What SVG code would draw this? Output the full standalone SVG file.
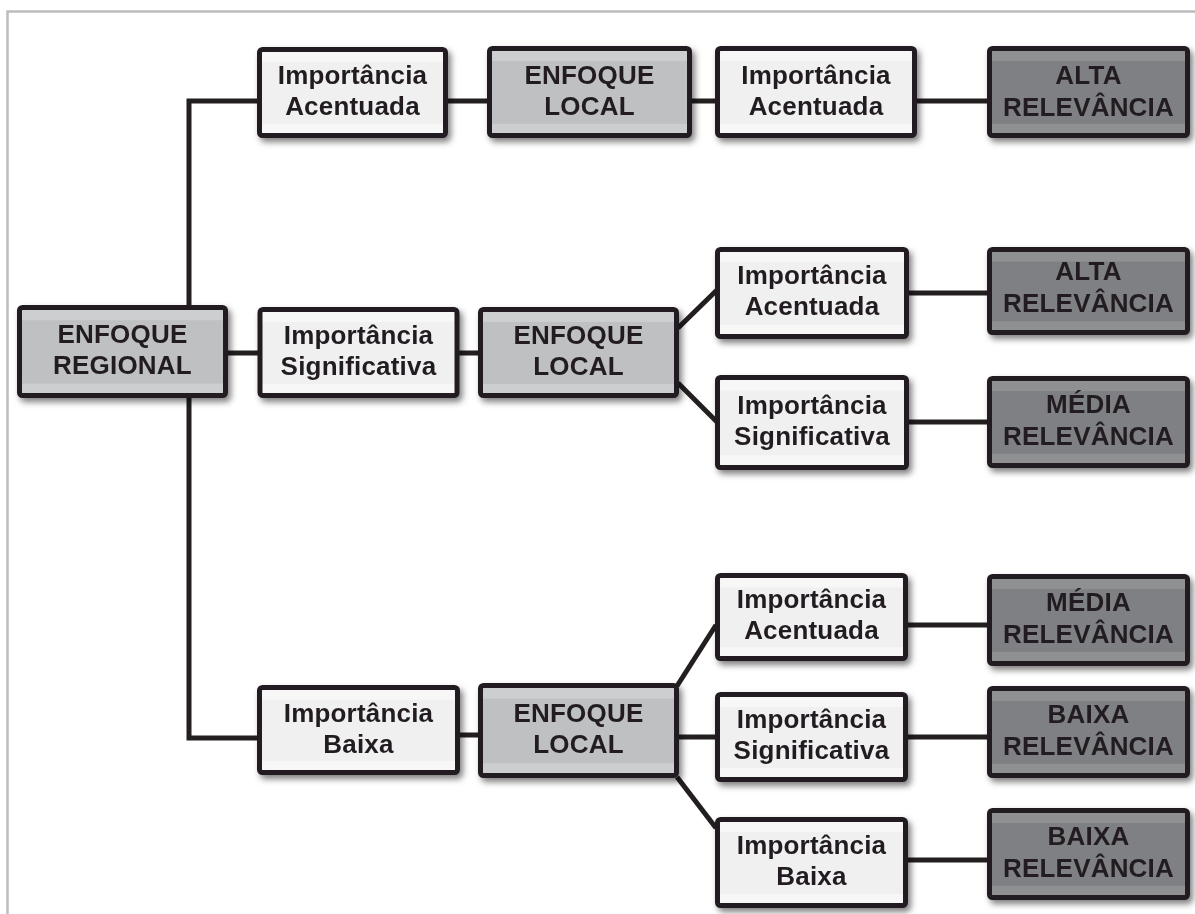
<svg xmlns="http://www.w3.org/2000/svg" width="1195" height="914" viewBox="0 0 1195 914">
<style>
.box{stroke:#231f20;stroke-width:5}
.imp{fill:url(#gImp)}
.enf{fill:url(#gEnf)}
.rel{fill:url(#gRel)}
.t{font-family:"Liberation Sans",Arial,sans-serif;font-weight:bold;font-size:26px;letter-spacing:0.2px;fill:#231f20;text-anchor:middle}
.c{stroke:#231f20;stroke-width:5;fill:none;stroke-linecap:butt;stroke-linejoin:miter}
</style>
<defs>
<filter id="sh" x="-10%" y="-10%" width="130%" height="140%">
<feDropShadow dx="3" dy="4" stdDeviation="3" flood-color="#000" flood-opacity="0.5"/>
</filter>
<linearGradient id="gImp" x1="0" y1="0" x2="0" y2="1">
<stop offset="0" stop-color="#f7f7f7"/><stop offset="0.14" stop-color="#f7f7f7"/><stop offset="0.15" stop-color="#f0f0f1"/><stop offset="0.86" stop-color="#f0f0f1"/><stop offset="0.87" stop-color="#f7f7f7"/><stop offset="1" stop-color="#f7f7f7"/>
</linearGradient>
<linearGradient id="gEnf" x1="0" y1="0" x2="0" y2="1">
<stop offset="0" stop-color="#cdcecf"/><stop offset="0.14" stop-color="#cdcecf"/><stop offset="0.15" stop-color="#bfc0c2"/><stop offset="0.86" stop-color="#bfc0c2"/><stop offset="0.87" stop-color="#cdcecf"/><stop offset="1" stop-color="#cdcecf"/>
</linearGradient>
<linearGradient id="gRel" x1="0" y1="0" x2="0" y2="1">
<stop offset="0" stop-color="#8f9092"/><stop offset="0.14" stop-color="#8f9092"/><stop offset="0.15" stop-color="#7f8083"/><stop offset="0.86" stop-color="#7f8083"/><stop offset="0.87" stop-color="#8f9092"/><stop offset="1" stop-color="#8f9092"/>
</linearGradient>
</defs>
<rect width="1195" height="914" fill="#fff"/>
<rect x="7.5" y="11.5" width="1200" height="920" fill="none" stroke="#bcbdc0" stroke-width="2.5"/>

<g id="connectors">
<path class="c" d="M189 306 V101 H258"/>
<path class="c" d="M189 398 V738 H258"/>
<path class="c" d="M228 353 H258"/>
<path class="c" d="M447 101 H488"/>
<path class="c" d="M692 101 H716"/>
<path class="c" d="M916 101 H989"/>
<path class="c" d="M459 353 H480"/>
<path class="c" d="M678 328 L717 290"/>
<path class="c" d="M678 383 L717 422"/>
<path class="c" d="M908 293 H989"/>
<path class="c" d="M908 422 H989"/>
<path class="c" d="M460 735 H480"/>
<path class="c" d="M677 686 L716 625"/>
<path class="c" d="M677 737 H716"/>
<path class="c" d="M677 777 L716 828"/>
<path class="c" d="M908 625 H989"/>
<path class="c" d="M908 737 H989"/>
<path class="c" d="M908 860 H989"/>
</g>

<g id="n-regional" filter="url(#sh)"><rect class="box enf" x="19.5" y="307.5" width="206" height="88" rx="3"/><text class="t" x="122.5" y="343">ENFOQUE</text><text class="t" x="122.5" y="374">REGIONAL</text></g>

<g id="n-imp-a1" filter="url(#sh)"><rect class="box imp" x="259.5" y="49.5" width="186" height="86" rx="3"/><text class="t" x="352.5" y="84">Importância</text><text class="t" x="352.5" y="115">Acentuada</text></g>
<g id="n-imp-s1" filter="url(#sh)"><rect class="box imp" x="260" y="309.5" width="197" height="86" rx="3"/><text class="t" x="358.5" y="344">Importância</text><text class="t" x="358.5" y="375">Significativa</text></g>
<g id="n-imp-b1" filter="url(#sh)"><rect class="box imp" x="259.5" y="687.5" width="198" height="85" rx="3"/><text class="t" x="358.5" y="722">Importância</text><text class="t" x="358.5" y="753">Baixa</text></g>

<g id="n-local-1" filter="url(#sh)"><rect class="box enf" x="489.5" y="48.5" width="200" height="87" rx="3"/><text class="t" x="589.5" y="84">ENFOQUE</text><text class="t" x="589.5" y="115">LOCAL</text></g>
<g id="n-local-2" filter="url(#sh)"><rect class="box enf" x="480.5" y="309.5" width="196" height="86" rx="3"/><text class="t" x="578.5" y="344">ENFOQUE</text><text class="t" x="578.5" y="375">LOCAL</text></g>
<g id="n-local-3" filter="url(#sh)"><rect class="box enf" x="480.5" y="685.5" width="196" height="90" rx="3"/><text class="t" x="578.5" y="722">ENFOQUE</text><text class="t" x="578.5" y="753">LOCAL</text></g>

<g id="n-imp-a2" filter="url(#sh)"><rect class="box imp" x="717.5" y="48.5" width="197" height="87" rx="3"/><text class="t" x="816" y="84">Importância</text><text class="t" x="816" y="115">Acentuada</text></g>
<g id="n-imp-a3" filter="url(#sh)"><rect class="box imp" x="717.5" y="249.5" width="189" height="87" rx="3"/><text class="t" x="812" y="284">Importância</text><text class="t" x="812" y="315">Acentuada</text></g>
<g id="n-imp-s2" filter="url(#sh)"><rect class="box imp" x="717.5" y="377.5" width="189" height="90" rx="3"/><text class="t" x="812" y="414">Importância</text><text class="t" x="812" y="445">Significativa</text></g>
<g id="n-imp-a4" filter="url(#sh)"><rect class="box imp" x="717.5" y="575.5" width="188" height="83" rx="3"/><text class="t" x="811.5" y="608">Importância</text><text class="t" x="811.5" y="639">Acentuada</text></g>
<g id="n-imp-s3" filter="url(#sh)"><rect class="box imp" x="717.5" y="694.5" width="188" height="85" rx="3"/><text class="t" x="811.5" y="728">Importância</text><text class="t" x="811.5" y="759">Significativa</text></g>
<g id="n-imp-b2" filter="url(#sh)"><rect class="box imp" x="717.5" y="819.5" width="188" height="86" rx="3"/><text class="t" x="811.5" y="854">Importância</text><text class="t" x="811.5" y="885">Baixa</text></g>

<g id="n-rel-1" filter="url(#sh)"><rect class="box rel" x="989.5" y="48.5" width="198" height="87" rx="3"/><text class="t" x="1088.5" y="84">ALTA</text><text class="t" x="1088.5" y="116">RELEVÂNCIA</text></g>
<g id="n-rel-2" filter="url(#sh)"><rect class="box rel" x="989.5" y="249.5" width="198" height="83" rx="3"/><text class="t" x="1088.5" y="280">ALTA</text><text class="t" x="1088.5" y="312">RELEVÂNCIA</text></g>
<g id="n-rel-3" filter="url(#sh)"><rect class="box rel" x="989.5" y="378.5" width="198" height="87" rx="3"/><text class="t" x="1088.5" y="413">MÉDIA</text><text class="t" x="1088.5" y="445">RELEVÂNCIA</text></g>
<g id="n-rel-4" filter="url(#sh)"><rect class="box rel" x="989.5" y="576.5" width="198" height="87" rx="3"/><text class="t" x="1088.5" y="611">MÉDIA</text><text class="t" x="1088.5" y="643">RELEVÂNCIA</text></g>
<g id="n-rel-5" filter="url(#sh)"><rect class="box rel" x="989.5" y="688.5" width="198" height="87" rx="3"/><text class="t" x="1088.5" y="723">BAIXA</text><text class="t" x="1088.5" y="755">RELEVÂNCIA</text></g>
<g id="n-rel-6" filter="url(#sh)"><rect class="box rel" x="989.5" y="810.5" width="198" height="87" rx="3"/><text class="t" x="1088.5" y="845">BAIXA</text><text class="t" x="1088.5" y="877">RELEVÂNCIA</text></g>
</svg>
